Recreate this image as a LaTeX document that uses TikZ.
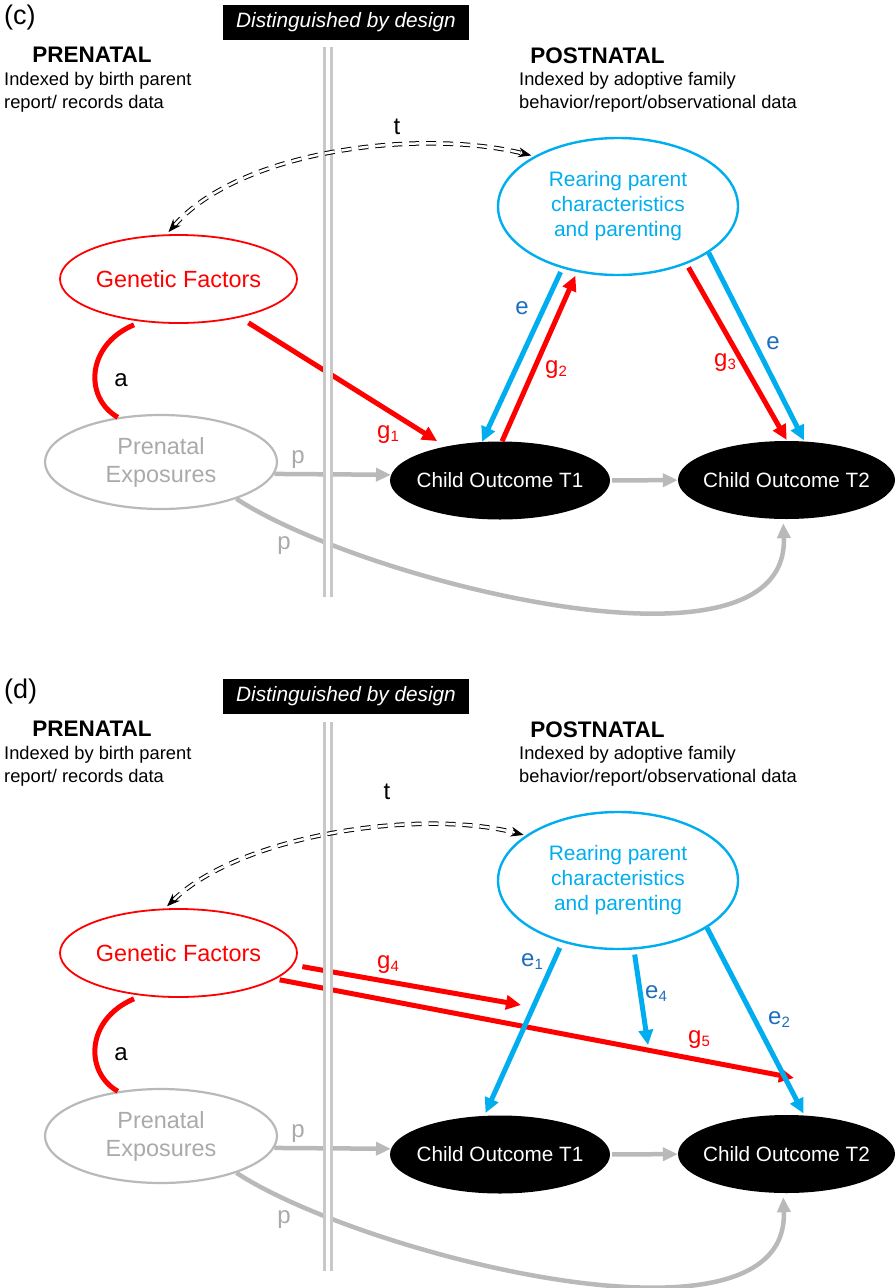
\documentclass[tikz,border=0pt]{standalone}
\usepackage{fontspec}
\setmainfont{Liberation Sans}
\usetikzlibrary{arrows.meta,shapes.geometric}

\definecolor{gred}{RGB}{255,0,0}
\definecolor{rcyan}{RGB}{0,174,239}
\definecolor{lblue}{RGB}{30,110,190}
\definecolor{pgray}{RGB}{185,185,185}
\definecolor{ptext}{RGB}{170,170,170}
\definecolor{divgray}{RGB}{200,200,200}

\newcommand\fsz[2]{\fontsize{#1}{#2}\selectfont}
\newcommand\lsub[1]{\raisebox{-3.5pt}{\fsz{15}{15}#1}}

\tikzset{
  oval/.style={ellipse, inner sep=0pt},
  ovtext/.style={inner sep=0pt, align=center},
  redarrow/.style={draw=gred, line width=5pt, -{Triangle[length=15pt,width=14pt]}},
  bluearrow/.style={draw=rcyan, line width=5pt, -{Triangle[length=15pt,width=14pt]}},
  grayarrow/.style={draw=pgray, line width=4.5pt, -{Triangle[length=15pt,width=13pt]}},
  tlink/.style={draw=black, line width=1pt, double=white, double distance=2.5pt,
    dash pattern=on 10pt off 7pt,
    {Stealth[length=13pt,width=10pt]}-{Stealth[length=13pt,width=10pt]}},
  lbl/.style={inner sep=0pt, anchor=base west, font=\fsz{24}{24}},
  clbl/.style={inner sep=0pt, font=\fsz{24}{24}},
  divider/.style={draw=divgray, line width=2.5pt, double=white, double distance=4.5pt},
}

% Elements shared by both panels; #1 = name prefix, #2 = panel letter
\newcommand\panelcore[2]{%
  % headings
  \node[anchor=base west, inner sep=0pt, font=\fsz{27}{27}] (#1tag) at (4,24) {(#2)};
  \node[fill=black, text=white, minimum width=246pt, minimum height=35pt, inner sep=0pt,
        font=\fsz{20.8}{24}\itshape] (#1box) at (346,22.5) {Distinguished by design};
  \node[anchor=base, inner sep=0pt, font=\fsz{22.5}{24}\bfseries] (#1pre) at (92,62) {PRENATAL};
  \node[anchor=base, inner sep=0pt, font=\fsz{22.5}{24}\bfseries] (#1post) at (597.5,63) {POSTNATAL};
  \node[anchor=north west, inner sep=0pt, align=left, font=\fsz{18.3}{23}] (#1prenote) at (4,72)
        {Indexed by birth parent\\report/ records data};
  \node[anchor=north west, inner sep=0pt, align=left, font=\fsz{18.3}{23}] (#1postnote) at (519,72)
        {Indexed by adoptive family\\behavior/report/observational data};
  % constructs
  \node[oval, draw=gred, line width=1.8pt, minimum width=237pt, minimum height=88pt] (#1G) at (178.5,279) {};
  \node[ovtext, text=gred, font=\fsz{23.4}{28}] (#1Gt) at (#1G) {Genetic Factors};
  \node[oval, draw=pgray, line width=2.2pt, minimum width=232pt, minimum height=94pt] (#1P) at (161,462) {};
  \node[ovtext, text=ptext, font=\fsz{23.4}{28}] (#1Pt) at (#1P) {Prenatal\\Exposures};
  \node[oval, draw=rcyan, line width=2.4pt, minimum width=240pt, minimum height=137pt] (#1R) at (618,206.5) {};
  \node[ovtext, text=rcyan, font=\fsz{20.9}{25}] (#1Rt) at (#1R) {Rearing parent\\characteristics\\and parenting};
  \node[oval, fill=black, minimum width=220pt, minimum height=78pt] (#1T1) at (500,480.5) {};
  \node[ovtext, text=white, font=\fsz{20.7}{24}] (#1T1t) at (#1T1) {Child Outcome T1};
  \node[oval, fill=black, minimum width=217pt, minimum height=78pt] (#1T2) at (786.5,480) {};
  \node[ovtext, text=white, font=\fsz{20.7}{24}] (#1T2t) at (#1T2) {Child Outcome T2};
  % prenatal paths
  \draw[gred, line width=5pt, shorten <=8pt] (#1G.229) .. controls (86,345) and (84,398) .. (#1P.134);
  \draw[grayarrow] (#1P.-6.5) -- (#1T1.177);
  \draw[grayarrow, shorten <=2pt] (#1T1) -- (#1T2);
  \draw[grayarrow, shorten >=4pt] (#1P.-26) .. controls (360,580) and (790,690) .. (#1T2.265);
  \node[clbl] (#1a) at (121,380) {a};
  \node[clbl, text=ptext] (#1p1) at (298,460) {p};
  \node[clbl, text=ptext] (#1p2) at (284,546) {p};
}

\begin{document}
\begin{tikzpicture}[x=1pt, y=-1pt]
\useasboundingbox (0,0) rectangle (896,1288);
\fill[white] (0,0) rectangle (896,1288);

% ---------- panel (c) ----------
\begin{scope}
  \panelcore{c}{c}
  \draw[redarrow, shorten <=10pt, shorten >=10pt] (cG) -- (cT1);
  \draw[bluearrow, shorten <=4pt] (cR.228) -- (cT1.115);
  \draw[redarrow, shorten >=4pt] (cT1.87) -- (cR.238);
  \draw[redarrow, shorten <=4pt, shorten >=1pt] (cR.320) -- (cT2.89);
  \draw[bluearrow, shorten >=1pt] (cR.333) -- (cT2.65);
  \coordinate (cdtop) at (328,47);
  \coordinate (cdbot) at (328,597);
  \draw[divider] (cdtop) -- (cdbot);
  \draw[tlink, shorten <=3pt, shorten >=3pt] (cG.105) .. controls (240,150) and (420,128) .. (cR.149);
  \node[clbl] (ct) at (397,127) {t};
  \node[lbl, text=gred] (cg1) at (377,438) {g\lsub{1}};
  \node[clbl, text=lblue] (ce1) at (522,308) {e};
  \node[lbl, text=gred] (cg2) at (545,373) {g\lsub{2}};
  \node[lbl, text=gred] (cg3) at (714,366) {g\lsub{3}};
  \node[clbl, text=lblue] (ce2) at (773,343) {e};
\end{scope}

% ---------- panel (d) ----------
\begin{scope}[shift={(0,674)}]
  \panelcore{d}{d}
  \coordinate (dg4end) at (521,331);
  \coordinate (dg5end) at (794,404);
  \coordinate (de4end) at (648,371);
  \draw[redarrow, shorten <=9pt] (dG.-6) -- (dg4end);
  \draw[redarrow, shorten <=4pt] (dG.-15) -- (dg5end);
  \draw[bluearrow, shorten <=6pt, shorten >=3pt] (dR.228) -- (dT1.112);
  \draw[bluearrow, shorten <=5pt] (dR.-77.6) -- (de4end);
  \draw[bluearrow, shorten >=2pt] (dR.332) -- (dT2.65);
  \coordinate (ddtop) at (328,48);
  \coordinate (ddbot) at (328,597);
  \draw[divider] (ddtop) -- (ddbot);
  \draw[tlink, shorten <=3pt, shorten >=2pt] (dG.107) .. controls (240,161) and (420,134) .. (dR.154);
  \node[clbl] (dt) at (387,118) {t};
  \node[lbl, text=gred] (dg4) at (377,294) {g\lsub{4}};
  \node[lbl, text=lblue] (de1) at (521,292) {e\lsub{1}};
  \node[lbl, text=lblue] (de4) at (645,324) {e\lsub{4}};
  \node[lbl, text=lblue] (de2) at (768,350) {e\lsub{2}};
  \node[lbl, text=gred] (dg5) at (688,369) {g\lsub{5}};
\end{scope}
\end{tikzpicture}
\end{document}
